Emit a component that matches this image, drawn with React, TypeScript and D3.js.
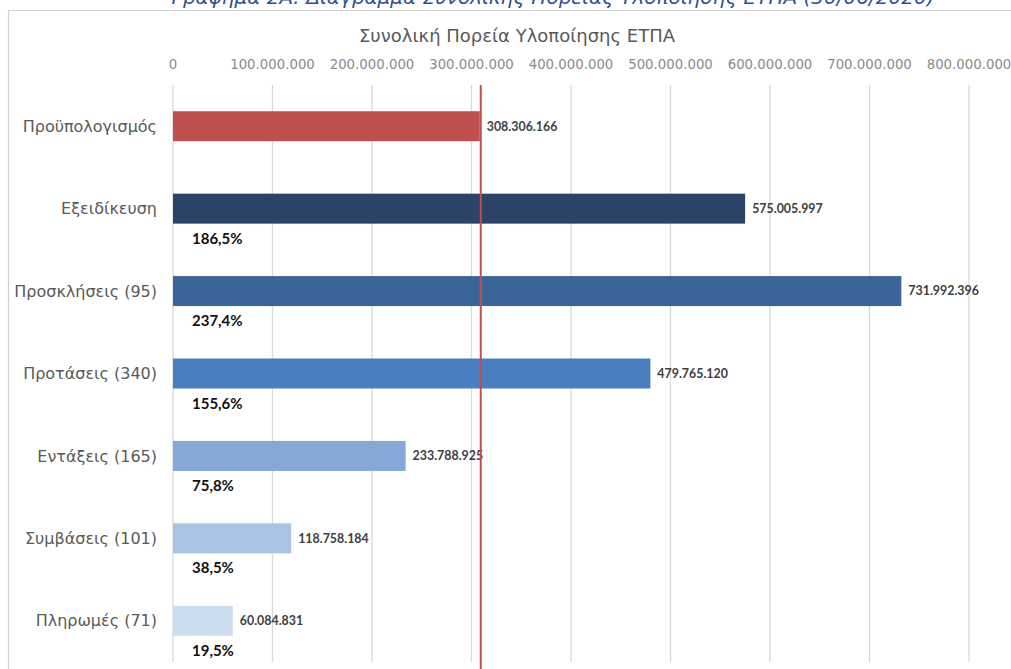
import React from "react";
import * as d3 from "d3";

const categories: string[] = [
  "Προϋπολογισμός",
  "Εξειδίκευση",
  "Προσκλήσεις (95)",
  "Προτάσεις (340)",
  "Εντάξεις (165)",
  "Συμβάσεις (101)",
  "Πληρωμές (71)",
];
const values: number[] = [308306166, 575005997, 731992396, 479765120, 233788925, 118758184, 60084831];
const barColors: string[] = ["#C0504D", "#2C4266", "#3A6598", "#4A7EC0", "#84A9D6", "#A9C3E4", "#CCDDF0"];
const xTicks: number[] = [0, 100000000, 200000000, 300000000, 400000000, 500000000, 600000000, 700000000, 800000000];
const caption = "Γράφημα 2Α: Διάγραμμα Συνολικής Πορείας Υλοποίησης ΕΤΠΑ (30/06/2020)";
const chartTitle = "Συνολική Πορεία Υλοποίησης ΕΤΠΑ";

const W = 1011;
const H = 669;

const locale = d3.formatLocale({ decimal: ",", thousands: ".", grouping: [3], currency: ["€", ""] });
const fmtInt = locale.format(",");
const fmtPct = locale.format(".1%");

export default function App() {
  const x = d3.scaleLinear().domain([0, 800000000]).range([173, 969]);
  const y = d3.scaleBand<string>().domain(categories).range([85, 662]).padding(0);
  const bh = 30;
  const budget = values[0];
  const font = "'DejaVu Sans', sans-serif";
  const boldFont = "Lato, 'DejaVu Sans', sans-serif";

  return (
    <svg width={W} height={H} style={{ position: "absolute", left: 0, top: 0, background: "#fff" }}>
      <rect x={0} y={0} width={W} height={H} fill="#fff" />
      {/* caption, cut at the top edge as in the source */}
      <text x={553} y={4} textAnchor="middle" fontFamily={font} fontStyle="italic" fontSize={20} fill="#2F528F">
        {caption}
      </text>
      {/* frame */}
      <line x1={8.5} x2={W} y1={10.5} y2={10.5} stroke="#d0d0d0" strokeWidth={1.2} />
      <line x1={8.5} x2={8.5} y1={10.5} y2={H} stroke="#d0d0d0" strokeWidth={1.2} />

      <text x={517} y={42} textAnchor="middle" fontFamily={font} fontSize={18} fill="#595959">
        {chartTitle}
      </text>

      {/* gridlines */}
      {xTicks.map((t) => (
        <line key={"g" + t} x1={x(t)} x2={x(t)} y1={85} y2={662} stroke="#d9d9d9" strokeWidth={1.3} />
      ))}
      {/* tick labels */}
      {xTicks.map((t) => (
        <text key={"t" + t} x={x(t)} y={69} textAnchor="middle" fontFamily={font} fontSize={13.3} fill="#8a8a8a">
          {fmtInt(t)}
        </text>
      ))}

      {/* bars */}
      {categories.map((c, i) => {
        const cy = (y(c) as number) + y.bandwidth() / 2;
        return (
          <g key={c}>
            <rect x={x(0)} y={cy - bh / 2} width={x(values[i]) - x(0)} height={bh} fill={barColors[i]} />
            <text x={157} y={cy} dy="0.35em" textAnchor="end" fontFamily={font} fontSize={16} fill="#595959">
              {c}
            </text>
            <text x={x(values[i]) + 7} y={cy} dy="0.35em" fontFamily={boldFont} fontWeight="bold" fontSize={12.4} fill="#404040">
              {fmtInt(values[i])}
            </text>
            {i > 0 && (
              <text x={192} y={cy + bh / 2 + 20} fontFamily={boldFont} fontWeight="bold" fontSize={15} fill="#111">
                {fmtPct(values[i] / budget)}
              </text>
            )}
          </g>
        );
      })}

      {/* budget line */}
      <line x1={x(budget) + 1} x2={x(budget) + 1} y1={85} y2={H} stroke="#C0504D" strokeWidth={2} />
    </svg>
  );
}
